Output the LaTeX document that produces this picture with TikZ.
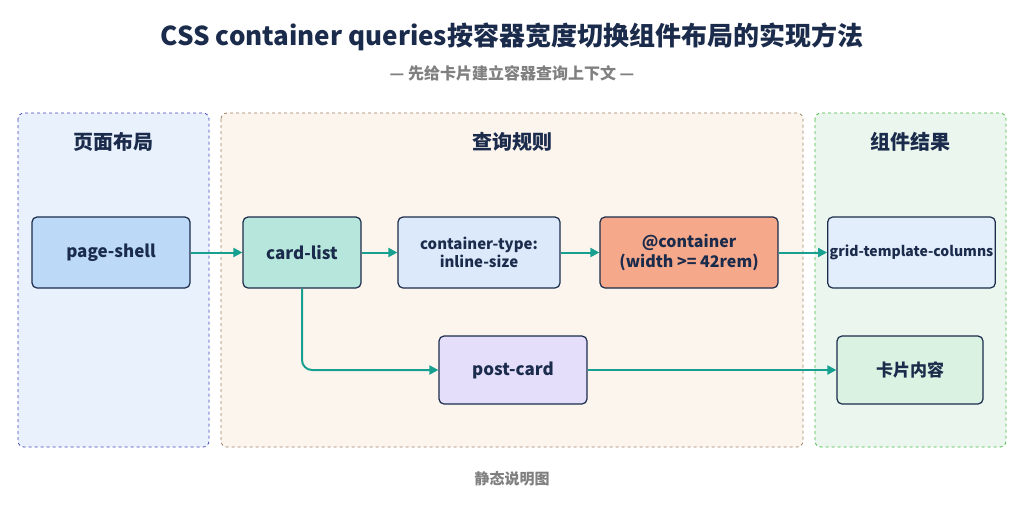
\documentclass[tikz,border=0pt]{standalone}
\usepackage{fontspec}
\setmainfont{Noto Sans CJK SC}
\usetikzlibrary{arrows.meta}
\definecolor{navy}{HTML}{1B2B4B}
\definecolor{teal}{HTML}{17A08F}
\begin{document}
\begin{tikzpicture}[x=1pt,y=-1pt,
 panel/.style={draw=#1!45!gray,dashed,line width=0.8pt,rounded corners=6pt},
 box/.style={draw=navy,line width=1.2pt,rounded corners=5pt,align=center,inner sep=2pt,font=\bfseries\fontsize{15}{18}\selectfont,text=navy},
 hdr/.style={font=\bfseries\fontsize{20}{24}\selectfont,text=navy},
 arr/.style={draw=teal,line width=2pt,-{Triangle[length=9pt,width=9pt]}}]
\useasboundingbox (0,0) rectangle (1024,512);
\fill[white] (0,0) rectangle (1024,512);
\node[font=\bfseries\fontsize{26}{30}\selectfont,text=navy] (title) at (512,37) {CSS container queries按容器宽度切换组件布局的实现方法};
\node[font=\bfseries\fontsize{16}{19}\selectfont,text=gray] (sub) at (512,73) {— 先给卡片建立容器查询上下文 —};
\path[panel=blue,fill={rgb,255:red,232;green,241;blue,252}] (18,113) rectangle (209,447);
\path[panel=brown,fill={rgb,255:red,252;green,245;blue,238}] (221,113) rectangle (803,447);
\path[panel=green,fill={rgb,255:red,234;green,246;blue,238}] (815,113) rectangle (1006,447);
\node[hdr] (h1) at (113,142) {页面布局};
\node[hdr] (h2) at (512,142) {查询规则};
\node[hdr] (h3) at (910,142) {组件结果};
\node[box,fill={rgb,255:red,188;green,218;blue,248},minimum width=158pt,minimum height=71pt,font=\bfseries\fontsize{17}{20}\selectfont] (ps) at (111,252.5) {page-shell};
\node[box,fill={rgb,255:red,182;green,230;blue,220},minimum width=118pt,minimum height=71pt,font=\bfseries\fontsize{17}{20}\selectfont] (cl) at (302,252.5) {card-list};
\node[box,fill={rgb,255:red,220;green,233;blue,251},minimum width=162pt,minimum height=71pt] (ct) at (479,252.5) {container-type:\\inline-size};
\node[box,fill={rgb,255:red,246;green,169;blue,138},minimum width=178pt,minimum height=71pt,font=\bfseries\fontsize{16}{20}\selectfont] (qc) at (689,252.5) {@container\\(width >= 42rem)};
\node[box,fill={rgb,255:red,227;green,238;blue,252},minimum width=165pt,minimum height=71pt,font=\bfseries\fontsize{14}{17}\selectfont] (gt) at (911.5,252.5) {grid-template-columns};
\node[box,fill={rgb,255:red,228;green,222;blue,251},minimum width=148pt,minimum height=68pt,font=\bfseries\fontsize{17}{20}\selectfont] (pc) at (513,370) {post-card};
\node[box,fill={rgb,255:red,217;green,242;blue,226},minimum width=146pt,minimum height=68pt,font=\bfseries\fontsize{17}{20}\selectfont] (kn) at (910,370) {卡片内容};
\draw[arr] (ps) -- (cl);
\draw[arr] (cl) -- (ct);
\draw[arr] (ct) -- (qc);
\draw[arr] (qc) -- (gt);
\draw[arr,rounded corners=10pt] (cl.south) |- (pc.west);
\draw[arr] (pc) -- (kn);
\node[font=\bfseries\fontsize{15}{18}\selectfont,text=gray] (foot) at (512,479) {静态说明图};
\end{tikzpicture}
\end{document}
